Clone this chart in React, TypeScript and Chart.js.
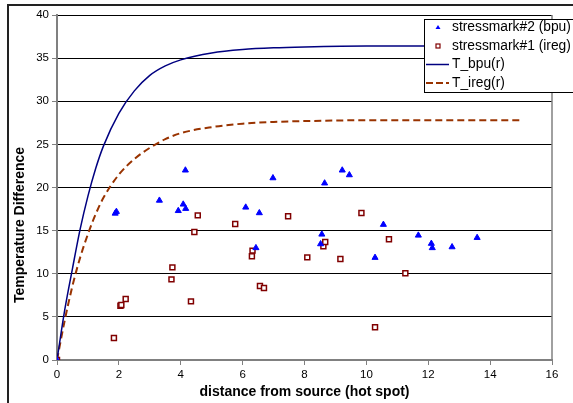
import React, { useEffect, useRef } from "react";
import { Chart, registerables } from "chart.js";

Chart.register(...registerables);

// stressmark#2 (bpu) measured points
const bpuX = [0, 1.88, 1.92, 3.31, 3.92, 4.08, 4.16, 4.15, 6.1, 6.43, 6.54, 6.98, 8.52, 8.56, 8.65, 9.22, 9.45, 10.28, 10.55, 11.68, 12.1, 12.13, 12.77, 13.58];
const bpuY = [0, 17.0, 17.2, 18.5, 17.3, 18.05, 17.55, 22.0, 17.7, 13.0, 17.05, 21.1, 13.45, 14.57, 20.5, 22.0, 21.45, 11.87, 15.7, 14.45, 13.5, 13.0, 13.1, 14.18];

// stressmark#1 (ireg) measured points
const iregX = [0, 1.84, 2.05, 2.08, 2.22, 3.7, 3.73, 4.33, 4.44, 4.55, 5.76, 6.3, 6.32, 6.56, 6.69, 7.47, 8.09, 8.61, 8.67, 9.16, 9.84, 10.28, 10.73, 11.26];
const iregY = [0, 2.55, 6.3, 6.37, 7.07, 9.35, 10.74, 6.8, 14.84, 16.77, 15.77, 12.02, 12.68, 8.58, 8.35, 16.66, 11.9, 13.18, 13.68, 11.7, 17.04, 3.79, 13.99, 10.05];

// model curves
const curveR = [0, 0.25, 0.5, 0.75, 1, 1.25, 1.5, 2, 2.5, 3, 3.5, 4, 5, 6, 7, 8, 10, 12, 15];
const tBpu = [0, 5.8, 10.6, 15.2, 19.0, 22.2, 24.8, 28.6, 31.2, 33.0, 34.1, 34.8, 35.6, 36.0, 36.2, 36.3, 36.4, 36.4, 36.4];
const tIreg = [0, 4.6, 8.6, 11.9, 14.6, 16.9, 18.8, 21.5, 23.3, 24.6, 25.6, 26.3, 27.0, 27.4, 27.6, 27.7, 27.8, 27.8, 27.8];

const seriesLabels = ["stressmark#2 (bpu)", "stressmark#1 (ireg)", "T_bpu(r)", "T_ireg(r)"];
const xTitle = "distance from source (hot spot)";
const yTitle = "Temperature Difference";

const FONT = "'Liberation Sans', Arial, sans-serif";

const zip = (xs: number[], ys: number[]) => xs.map((x, i) => ({ x, y: ys[i] }));

const decorPlugin = {
  id: "decor",
  afterDraw(chart: any) {
    const { ctx, chartArea: a } = chart;
    ctx.save();
    // right border of plot area
    ctx.strokeStyle = "#808080";
    ctx.lineWidth = 1.5;
    ctx.beginPath();
    ctx.moveTo(a.right, a.top);
    ctx.lineTo(a.right, a.bottom);
    ctx.stroke();

    // outer frame (top and left)
    ctx.strokeStyle = "#222";
    ctx.lineWidth = 2;
    ctx.beginPath();
    ctx.moveTo(8, 420);
    ctx.lineTo(8, 5);
    ctx.lineTo(600, 5);
    ctx.stroke();

    // axis titles
    ctx.fillStyle = "#000";
    ctx.font = `bold 14px ${FONT}`;
    ctx.textAlign = "center";
    ctx.textBaseline = "middle";
    ctx.fillText(xTitle, (a.left + a.right) / 2, 392);
    ctx.save();
    ctx.translate(20, 225);
    ctx.rotate(-Math.PI / 2);
    ctx.fillText(yTitle, 0, 0);
    ctx.restore();

    // legend
    const lx = 424, ly = 19, lw = 170, lh = 73;
    ctx.fillStyle = "#fff";
    ctx.fillRect(lx, ly, lw, lh);
    ctx.strokeStyle = "#000";
    ctx.lineWidth = 1;
    ctx.strokeRect(lx + 0.5, ly + 0.5, lw, lh);
    const rows = [27.5, 46, 64.5, 83];
    ctx.font = `13.8px ${FONT}`;
    ctx.textAlign = "left";
    ctx.textBaseline = "middle";
    seriesLabels.forEach((lab, i) => {
      const y = rows[i];
      if (i === 0) {
        ctx.fillStyle = "#0000FF";
        ctx.beginPath();
        ctx.moveTo(438, y - 2.5);
        ctx.lineTo(440.5, y + 1.5);
        ctx.lineTo(435.5, y + 1.5);
        ctx.closePath();
        ctx.fill();
      } else if (i === 1) {
        ctx.strokeStyle = "#800000";
        ctx.lineWidth = 1.2;
        ctx.fillStyle = "#fff";
        ctx.fillRect(436, y - 2, 4, 4);
        ctx.strokeRect(436, y - 2, 4, 4);
      } else {
        ctx.strokeStyle = i === 2 ? "#000080" : "#993300";
        ctx.lineWidth = i === 2 ? 1.5 : 2;
        ctx.setLineDash(i === 2 ? [] : [7, 3]);
        ctx.beginPath();
        ctx.moveTo(426, y);
        ctx.lineTo(449, y);
        ctx.stroke();
        ctx.setLineDash([]);
      }
      ctx.fillStyle = "#000";
      ctx.fillText(lab, 452, y);
    });
    ctx.restore();
  },
};

export default function App() {
  const ref = useRef<HTMLCanvasElement | null>(null);

  useEffect(() => {
    if (!ref.current) return;
    const tickFont = { family: FONT, size: 11.5 };
    const chart = new Chart(ref.current, {
      type: "scatter",
      data: {
        datasets: [
          {
            label: seriesLabels[0],
            data: zip(bpuX, bpuY),
            pointStyle: "triangle",
            pointRadius: 3.5,
            backgroundColor: "#0000FF",
            borderColor: "#0000FF",
            borderWidth: 1,
            showLine: false,
          },
          {
            label: seriesLabels[1],
            data: zip(iregX, iregY),
            pointStyle: "rect",
            pointRadius: 3.5,
            backgroundColor: "#ffffff",
            borderColor: "#800000",
            borderWidth: 1.5,
            showLine: false,
          },
          {
            label: seriesLabels[2],
            data: zip(curveR, tBpu),
            showLine: true,
            pointRadius: 0,
            borderColor: "#000080",
            borderWidth: 1.5,
            cubicInterpolationMode: "monotone",
            fill: false,
          },
          {
            label: seriesLabels[3],
            data: zip(curveR, tIreg),
            showLine: true,
            pointRadius: 0,
            borderColor: "#993300",
            borderWidth: 2,
            borderDash: [7, 4],
            cubicInterpolationMode: "monotone",
            fill: false,
          },
        ],
      } as any,
      options: {
        animation: false,
        responsive: false,
        devicePixelRatio: 1,
        layout: { padding: { left: 12, top: 15, right: 21, bottom: 0 } },
        plugins: { legend: { display: false }, tooltip: { enabled: false } },
        scales: {
          x: {
            type: "linear",
            min: 0,
            max: 16,
            ticks: { stepSize: 2, color: "#000", font: tickFont, padding: 3, maxRotation: 0 },
            grid: { drawOnChartArea: false, drawTicks: true, tickLength: 5, tickColor: "#808080" },
            border: { color: "#808080", width: 2 },
            afterFit: (s: any) => {
              s.height = 43;
            },
          },
          y: {
            type: "linear",
            min: 0,
            max: 40,
            ticks: { stepSize: 5, color: "#000", font: tickFont, padding: 3 },
            grid: { color: "#000", lineWidth: 1, tickLength: 5, tickColor: "#808080" },
            border: { color: "#808080", width: 2 },
            afterFit: (s: any) => {
              s.width = 45;
            },
          },
        },
      } as any,
      plugins: [decorPlugin],
    });
    return () => chart.destroy();
  }, []);

  return (
    <div style={{ position: "absolute", left: 0, top: 0, width: 573, height: 403, background: "#fff" }}>
      <canvas ref={ref} width={573} height={403} style={{ width: 573, height: 403, display: "block" }} />
    </div>
  );
}
